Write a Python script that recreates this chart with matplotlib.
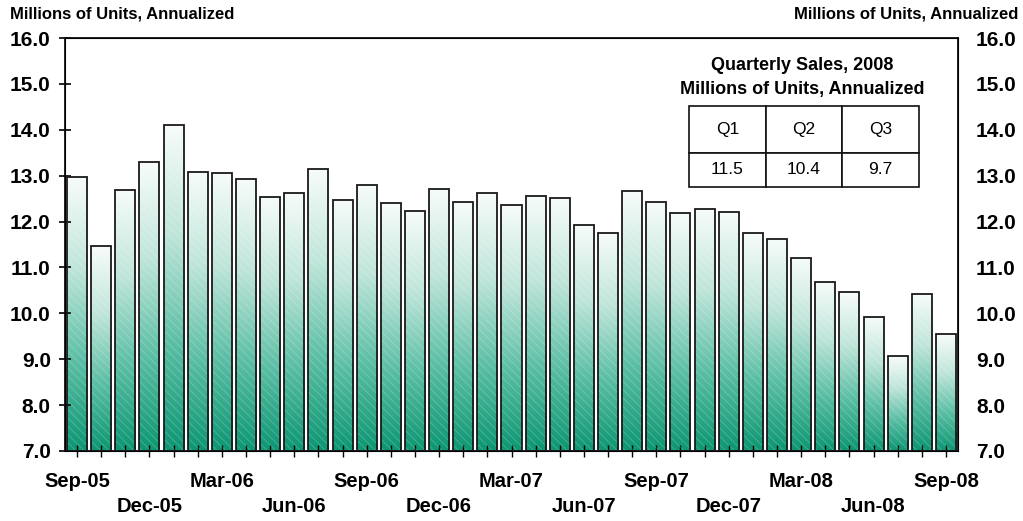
"""
Monthly vehicle sales bar chart with gradient bars and a quarterly table.
"""

import matplotlib
matplotlib.use("Agg")
import matplotlib.pyplot as plt
import numpy as np
from matplotlib.colors import LinearSegmentedColormap

plt.rcParams["font.family"] = ["Liberation Sans", "DejaVu Sans"]

months = [
    "Sep-05", "Oct-05", "Nov-05", "Dec-05", "Jan-06", "Feb-06", "Mar-06",
    "Apr-06", "May-06", "Jun-06", "Jul-06", "Aug-06", "Sep-06", "Oct-06",
    "Nov-06", "Dec-06", "Jan-07", "Feb-07", "Mar-07", "Apr-07", "May-07",
    "Jun-07", "Jul-07", "Aug-07", "Sep-07", "Oct-07", "Nov-07", "Dec-07",
    "Jan-08", "Feb-08", "Mar-08", "Apr-08", "May-08", "Jun-08", "Jul-08",
    "Aug-08", "Sep-08",
]
sales = [
    12.97, 11.46, 12.69, 13.29, 14.10, 13.08, 13.06, 12.93, 12.54, 12.63,
    13.15, 12.47, 12.80, 12.40, 12.22, 12.71, 12.42, 12.63, 12.37, 12.56,
    12.51, 11.93, 11.76, 12.66, 12.42, 12.19, 12.27, 12.21, 11.74, 11.63,
    11.21, 10.68, 10.46, 9.93, 9.06, 10.43, 9.54,
]
quarters = ["Q1", "Q2", "Q3"]
quarter_sales = ["11.5", "10.4", "9.7"]
unit_label = "Millions of Units, Annualized"
table_title = "Quarterly Sales, 2008\nMillions of Units, Annualized"

W, H = 1023, 521
fig = plt.figure(figsize=(W / 100, H / 100), dpi=100)
ax = fig.add_axes([65 / W, 1 - 451 / H, (958 - 65) / W, (451 - 38) / H])

ymin, ymax = 7.0, 16.0
x = np.arange(len(sales))
width = 0.83

cmap = LinearSegmentedColormap.from_list(
    "teal", ["#0c9672", "#5cbfa5", "#bfe5da", "#f7fcfa"])
grad = np.linspace(0, 1, 256).reshape(-1, 1)

for xi, v in zip(x, sales):
    x0, x1 = xi - width / 2, xi + width / 2
    ax.imshow(grad, extent=[x0, x1, ymin, v], origin="lower", aspect="auto",
              cmap=cmap, interpolation="bilinear", zorder=1)

# faint white diagonal hatching over each bar
plt.rcParams["hatch.linewidth"] = 0.7
ax.bar(x, np.array(sales) - ymin, bottom=ymin, width=width, facecolor="none",
       edgecolor=(1, 1, 1, 0.2), linewidth=0, hatch="\\\\\\\\", zorder=2)
ax.bar(x, np.array(sales) - ymin, bottom=ymin, width=width, facecolor="none",
       edgecolor="#1a1a1a", linewidth=1.3, zorder=3)

ax.set_xlim(-0.5, len(sales) - 0.5)
ax.set_ylim(ymin, ymax)

yticks = np.arange(7, 17, 1.0)
ax.set_yticks(yticks)
ax.set_yticklabels([f"{t:.1f}" for t in yticks], fontsize=15, fontweight="bold")
ax.tick_params(axis="y", direction="inout", length=8.5, width=1.2, pad=6)

ax.set_xticks(x)
xlabels = []
for i, m in enumerate(months):
    if i % 3:
        xlabels.append("")
    elif (i // 3) % 2:
        xlabels.append("\n" + m)
    else:
        xlabels.append(m)
ax.set_xticklabels(xlabels, fontsize=14.5, fontweight="bold", linespacing=1.4)
ax.tick_params(axis="x", direction="inout", length=8.5, width=1.0, pad=11)

for s in ax.spines.values():
    s.set_linewidth(1.3)
    s.set_color("#111111")

ax2 = ax.twinx()
ax2.set_ylim(ymin, ymax)
ax2.set_yticks(yticks)
ax2.set_yticklabels([f"{t:.1f}" for t in yticks], fontsize=15, fontweight="bold")
ax2.tick_params(axis="y", length=0, pad=13)

fig.text(10 / W, 1 - 14 / H, unit_label, fontsize=12, fontweight="bold",
         ha="left", va="center")
fig.text(1018 / W, 1 - 14 / H, unit_label, fontsize=12, fontweight="bold",
         ha="right", va="center")

ax.text(0.826, 0.904, table_title, transform=ax.transAxes, ha="center",
        va="center", fontsize=13, fontweight="bold", linespacing=1.5, zorder=5)

tbl = ax.table(cellText=[quarter_sales], colLabels=quarters, cellLoc="center",
               bbox=[(689 - 65) / 893, (451 - 187) / 413, (919 - 689) / 893,
                     (187 - 106) / 413], zorder=5)
tbl.auto_set_font_size(False)
for (r, c), cell in tbl.get_celld().items():
    cell.set_height(47 if r == 0 else 34)
    cell.set_width(1.0)
    cell.set_linewidth(1.2)
    cell.set_edgecolor("#111111")
    cell.set_facecolor("white")
    cell.get_text().set_fontsize(12.5)

fig.savefig("out.png", dpi=100)
